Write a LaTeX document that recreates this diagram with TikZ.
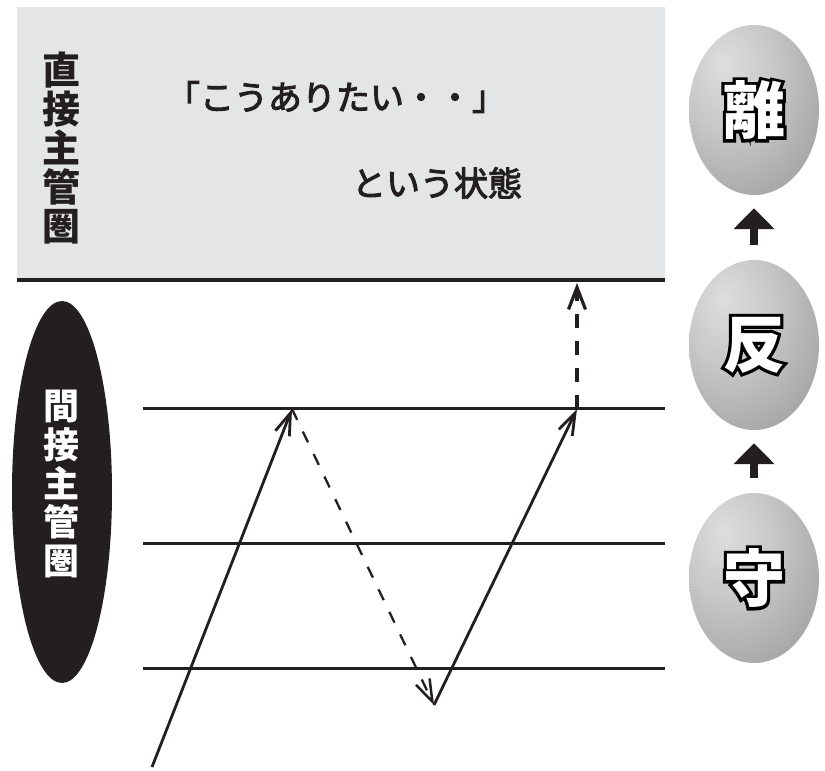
\documentclass[tikz,border=0pt]{standalone}
\usepackage{fontspec}
\newfontfamily\jp{Noto Sans CJK JP}
\newfontfamily\jpm{Noto Sans CJK JP}[FakeBold=3]
\newfontfamily\jpout{Noto Sans CJK JP}[FakeBold=10]
\usetikzlibrary{arrows.meta,shapes.geometric,calc}
\definecolor{boxgray}{RGB}{228,229,231}
\definecolor{ink}{RGB}{35,31,32}
\pgfdeclareradialshading{sphere}{\pgfpoint{-12bp}{14bp}}{color(0bp)=(black!13); color(18bp)=(black!22); color(36bp)=(black!34); color(50bp)=(black!50); color(62bp)=(black!62); color(100bp)=(black!66)}
\begin{document}
\begin{tikzpicture}[x=1pt,y=-1pt,
  level/.style={line width=3pt, draw=ink},
  jumpsolid/.style={line width=2.8pt, draw=ink, -{Straight Barb[length=22pt,width=15pt,line width=2.8pt]}},
  jumpdash/.style={line width=2.3pt, draw=ink, dash pattern=on 12pt off 13pt, -{Straight Barb[length=22pt,width=15pt,line width=2.5pt]}},
  jumpvert/.style={line width=3.2pt, draw=ink, dash pattern=on 14pt off 13pt, -{Straight Barb[length=22pt,width=17pt,line width=3.2pt]}},
  sphere/.style={ellipse, minimum width=130pt, minimum height=170pt, inner sep=0pt, shading=sphere},
  sphtext/.style={font=\jp\bfseries\fontsize{62}{62}\selectfont, inner sep=0pt},
  sphout/.style={font=\jpout\bfseries\fontsize{62}{62}\selectfont, inner sep=0pt},
  uparrow/.style={draw=ink, line width=8pt, -{Triangle[length=21pt,width=40pt]}, shorten <=15pt, shorten >=13pt},
  vlabel/.style={align=center, inner sep=0pt, font=\jp\bfseries\fontsize{38}{39}\selectfont},
  mtext/.style={inner sep=0pt, text=ink, font=\jpm\fontsize{34}{34}\selectfont}
]
\useasboundingbox (0,0) rectangle (825,771);
% top region
\fill[boxgray] (17,7) rectangle (665,280);
\coordinate (t0a) at (17,280);
\coordinate (t0b) at (665,280);
\draw[line width=4pt, draw=ink] (t0a) -- (t0b);
\node[vlabel, text=ink] (direct) at (61,148) {直\\接\\主\\管\\圏};
\node[mtext] (wish) at (336,97) {「こうありたい・・」};
\node[mtext] (state) at (437,183) {という状態};
% indirect ellipse
\node[ellipse, fill=ink, minimum width=100pt, minimum height=382pt, inner sep=0pt] (indirect) at (62,492) {};
\node[vlabel, text=white, font=\jp\bfseries\fontsize{36}{38.6}\selectfont] (indlabel) at (61,484) {間\\接\\主\\管\\圏};
% levels
\coordinate (l1a) at (143,408); \coordinate (l1b) at (665,408);
\coordinate (l2a) at (143,543); \coordinate (l2b) at (665,543);
\coordinate (l3a) at (143,668); \coordinate (l3b) at (665,668);
\draw[level] (l1a) -- (l1b);
\draw[level] (l2a) -- (l2b);
\draw[level] (l3a) -- (l3b);
% zigzag
\coordinate (s) at (152,767);
\coordinate (p1) at (292,409);
\coordinate (p2) at (434,705);
\coordinate (p3) at (577,409);
\coordinate (p4) at (577,283);
\draw[jumpsolid] (s) -- (p1);
\draw[jumpdash] (p1) -- (p2);
\draw[jumpsolid] (p2) -- (p3);
\draw[jumpvert] (p3) -- (p4);
% spheres
\node[sphere] (c1) at (754,110) {};
\node[sphere] (c2) at (754,345) {};
\node[sphere] (c3) at (754,578) {};
\foreach \n/\ch in {c1/離,c2/反,c3/守}{
  \node[sphout, text=black] (\n o) at (\n) {\ch};
  \node[sphtext, text=white] (\n t) at (\n) {\ch};
}
\draw[uparrow] (c2.north) -- (c1.south);
\draw[uparrow] (c3.north) -- (c2.south);
\end{tikzpicture}
\end{document}
